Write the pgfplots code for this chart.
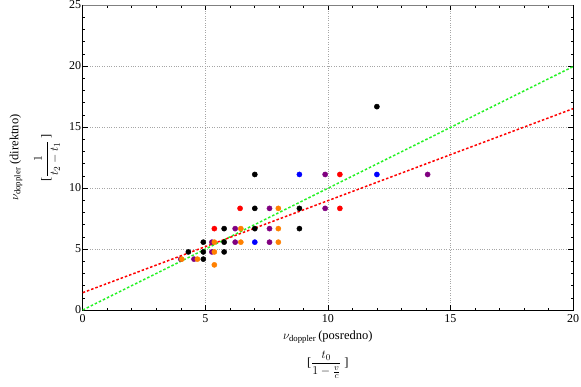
\documentclass[border=0pt]{standalone}
\usepackage{fontspec}
\setmainfont{Liberation Serif}
\usepackage{amsmath}
\usepackage{pgfplots}
\pgfplotsset{compat=1.18}

\definecolor{mred}{rgb}{1,0,0}
\definecolor{morange}{rgb}{1,0.5,0}
\definecolor{mpurple}{rgb}{0.5,0,0.5}
\definecolor{mblue}{rgb}{0,0,1}
\definecolor{mgreen}{rgb}{0.15,0.95,0.15}

\begin{document}
\begin{tikzpicture}
\begin{axis}[
 name=ax,
 scale only axis, width=490.3bp, height=305bp,
 xmin=0, xmax=20, ymin=0, ymax=25,
 xtick={0,5,...,20}, ytick={0,5,...,25},
 minor x tick num=4, minor y tick num=4,
 tick align=inside, tick pos=both,
 xticklabel pos=left, yticklabel pos=left,
 major tick length=5bp, minor tick length=2.5bp,
 grid=major, major grid style={gray!70, dotted, line width=0.7bp},
 axis line style={black, line width=0.8bp},
 every tick/.style={black, line width=0.5bp},
 /pgf/number format/assume math mode=true,
 ticklabel style={font=\fontsize{12bp}{14bp}\selectfont},
 xticklabel style={inner sep=1bp, yshift=-3bp},
 yticklabel style={inner sep=1.5bp},
 extra description/.code={
   \node[rotate=90, font=\fontsize{12.5bp}{14bp}\selectfont] at ([xshift=-66.7bp]rel axis cs:0,0.5) {$\nu_{\text{doppler}}$ (direktno)};
   \node[rotate=90, font=\fontsize{12.5bp}{14bp}\selectfont] at ([xshift=-35.7bp]rel axis cs:0,0.5) {[$\dfrac{1}{t_2-t_1}$ ]};
   \node[font=\fontsize{12.5bp}{14bp}\selectfont] at ([yshift=-27bp]rel axis cs:0.5,0) {$\nu_{\text{doppler}}$\,(posredno)};
   \node[font=\fontsize{12.5bp}{14bp}\selectfont] at ([yshift=-55bp]rel axis cs:0.5,0) {[$\dfrac{t_0}{1-\frac{v}{c}}$ ]};
 },
]
\addplot[only marks, mark=*, mark size=2.6bp, color=black] coordinates {
 (4.31,4.76) (4.92,5.56) (4.92,4.76) (4.92,4.17) (5.77,6.67) (5.77,5.56) (5.77,4.76)
 (7.02,8.33) (7.02,6.67) (7.02,11.11) (8.84,8.33) (8.84,6.67) (12.0,16.67)
};
\addplot[only marks, mark=*, mark size=2.6bp, color=mred] coordinates {
 (6.42,8.33) (5.37,6.67) (10.49,11.11) (10.49,8.33)
};
\addplot[only marks, mark=*, mark size=2.6bp, color=mpurple] coordinates {
 (4.00,4.17) (4.54,4.17) (5.27,5.56) (5.27,4.76) (6.22,6.67) (6.22,5.56)
 (7.62,8.33) (7.62,6.67) (7.62,5.56) (9.89,11.11) (9.89,8.33) (14.07,11.11)
};
\addplot[only marks, mark=*, mark size=2.6bp, color=morange] coordinates {
 (4.04,4.17) (4.68,4.17) (5.37,5.56) (5.37,4.76) (5.37,3.70) (6.45,6.67) (6.45,5.56)
 (7.98,8.33) (7.98,6.67) (7.98,5.56)
};
\addplot[only marks, mark=*, mark size=2.6bp, color=mblue] coordinates {
 (7.02,5.56) (8.84,11.11) (12.0,11.11)
};
\addplot[mgreen, line width=1.5bp, dash pattern=on 2.5bp off 2bp] coordinates {(0,0) (20,19.95)};
\addplot[mred, line width=1.5bp, dash pattern=on 2.5bp off 2bp] coordinates {(0,1.42) (20,16.5)};
\end{axis}
\draw[gray, line width=0.8bp] (ax.north west) -- (ax.north east);
\pgfresetboundingbox
\path ([xshift=-82.7bp, yshift=-77bp]ax.south west) rectangle ([xshift=8bp, yshift=5bp]ax.north east);
\end{tikzpicture}
\end{document}
